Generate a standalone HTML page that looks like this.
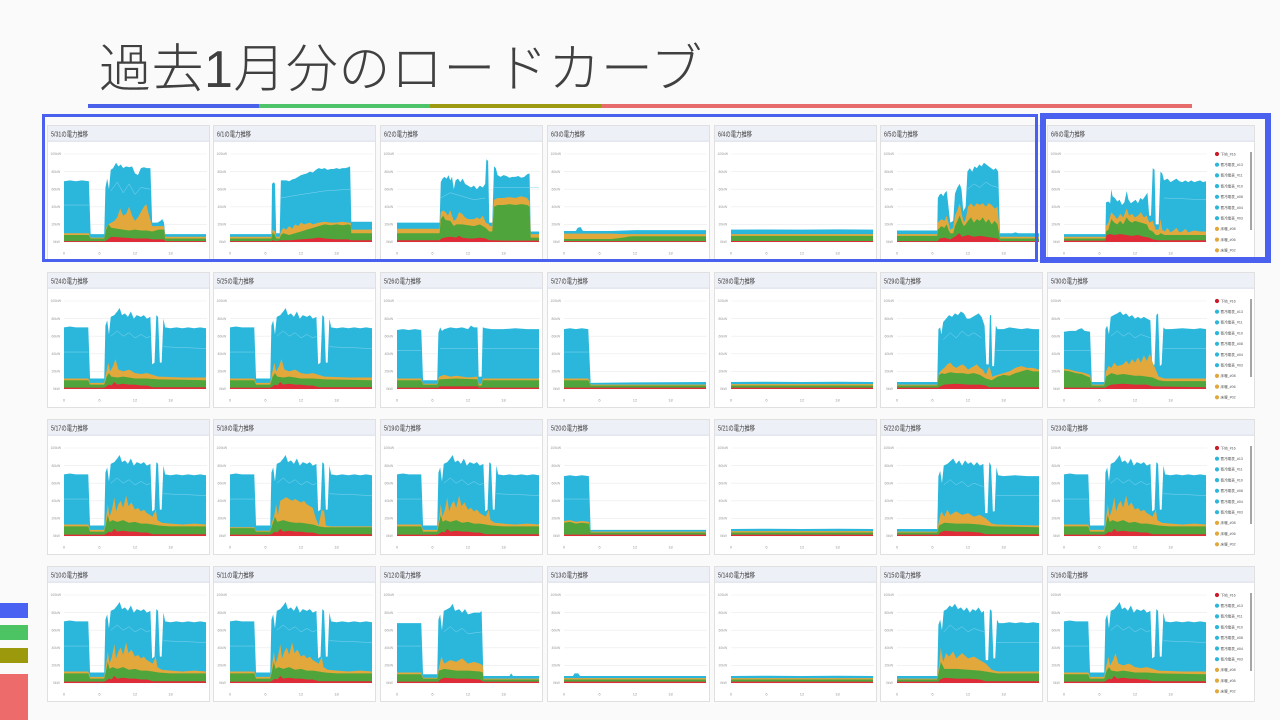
<!DOCTYPE html>
<html lang="ja"><head><meta charset="utf-8">
<style>
html,body{margin:0;padding:0;}
body{width:1280px;height:720px;background:#fafafa;position:relative;overflow:hidden;font-family:"Liberation Sans","Noto Sans CJK JP",sans-serif;}
.title{position:absolute;left:99px;top:40px;font-size:52px;line-height:60px;font-weight:300;color:#404040;font-family:"Liberation Sans","Noto Sans CJK JP",sans-serif;white-space:nowrap;letter-spacing:0.5px}
.ul{position:absolute;top:104px;height:4px}
.lb{position:absolute;left:0;width:28px}
svg{position:absolute;left:0;top:0}
.h{font-size:7px;fill:#3a3a3a;font-family:"Liberation Sans","Noto Sans CJK JP",sans-serif}
</style></head>
<body>
<div class="title">過去1月分のロードカーブ</div>
<div class="ul" style="left:88px;width:171px;background:#4a62ea"></div>
<div class="ul" style="left:259px;width:171px;background:#4dc46a"></div>
<div class="ul" style="left:430px;width:171px;background:#9b9a10"></div>
<div class="ul" style="left:601px;width:591px;background:#e86b6b"></div>
<div class="lb" style="top:603px;height:15px;background:#4a62f2"></div>
<div class="lb" style="top:625px;height:15px;background:#4cc464"></div>
<div class="lb" style="top:648px;height:15px;background:#9c9a0c"></div>
<div class="lb" style="top:674px;height:46px;background:#ee6b6b"></div>

<svg width="1280" height="720" viewBox="0 0 1280 720" xmlns="http://www.w3.org/2000/svg">
<defs>
<g id="grid">
<g stroke="#ebebeb" stroke-width="0.6">
<line x1="17" y1="29" x2="160" y2="29"/><line x1="17" y1="46.6" x2="160" y2="46.6"/><line x1="17" y1="64.2" x2="160" y2="64.2"/><line x1="17" y1="81.8" x2="160" y2="81.8"/><line x1="17" y1="99.4" x2="160" y2="99.4"/><line x1="17" y1="117" x2="160" y2="117"/>
</g>
<g font-family="Liberation Sans, sans-serif" font-size="3.4" fill="#9a9a9a">
<text x="3.5" y="30.2">100kW</text><text x="4.5" y="47.8">80kW</text><text x="4.5" y="65.4">60kW</text><text x="4.5" y="83">40kW</text><text x="4.5" y="100.6">20kW</text><text x="6" y="118.2">0kW</text>
</g>
<g font-family="Liberation Sans, sans-serif" font-size="4" fill="#999" text-anchor="middle">
<text x="17" y="129.5">0</text><text x="52.5" y="129.5">6</text><text x="88" y="129.5">12</text><text x="123.5" y="129.5">18</text>
</g>
</g>
<g id="fr">
<rect x="0.5" y="0.5" width="162" height="135" fill="#fff" stroke="#e0e0e0"/>
<rect x="1" y="1" width="161" height="15" fill="#eef0f7"/>
<line x1="1" y1="16.2" x2="162" y2="16.2" stroke="#d4d7e6" stroke-width="0.8"/>
<use href="#grid"/>
</g>
<g id="frL">
<rect x="0.5" y="0.5" width="207" height="135" fill="#fff" stroke="#e0e0e0"/>
<rect x="1" y="1" width="206" height="15" fill="#eef0f7"/>
<line x1="1" y1="16.2" x2="207" y2="16.2" stroke="#d4d7e6" stroke-width="0.8"/>
<use href="#grid"/>
<line x1="204" y1="27" x2="204" y2="105" stroke="#6a6a6a" stroke-width="1.2"/>
<g font-family="Liberation Sans, Noto Sans CJK JP, sans-serif" font-size="3.6" fill="#555">
<circle cx="170" cy="29" r="2.1" fill="#c81e2a"/><text x="173.5" y="30.3">下地_#16</text>
<circle cx="170" cy="39.7" r="2.1" fill="#2bb7dc"/><text x="173.5" y="41">蓄冷電表_#13</text>
<circle cx="170" cy="50.4" r="2.1" fill="#2bb7dc"/><text x="173.5" y="51.7">蓄冷電表_#11</text>
<circle cx="170" cy="61.1" r="2.1" fill="#2bb7dc"/><text x="173.5" y="62.4">蓄冷電表_#10</text>
<circle cx="170" cy="71.8" r="2.1" fill="#2bb7dc"/><text x="173.5" y="73.1">蓄冷電表_#08</text>
<circle cx="170" cy="82.5" r="2.1" fill="#2bb7dc"/><text x="173.5" y="83.8">蓄冷電表_#04</text>
<circle cx="170" cy="93.2" r="2.1" fill="#2bb7dc"/><text x="173.5" y="94.5">蓄冷電表_#03</text>
<circle cx="170" cy="103.9" r="2.1" fill="#e2a83c"/><text x="173.5" y="105.2">床暖_#08</text>
<circle cx="170" cy="114.6" r="2.1" fill="#e2a83c"/><text x="173.5" y="115.9">床暖_#06</text>
<circle cx="170" cy="125.3" r="2.1" fill="#e2a83c"/><text x="173.5" y="126.6">床暖_#02</text>
</g>
</g>

<polygon id="Ca" fill="#2bb7dc" points="0,0 0,70 1,71 2,70 3,70 4.1,70 4.4,12 6.8,12 7,72 7.3,78 7.6,62 7.9,82 8.5,84 9,88 9.4,92 9.8,84 10.3,86 10.8,82 11.3,88 11.8,80 12.3,84 13,82 13.5,84 14,80 14.6,82 14.9,28 15.3,30 15.6,84 15.9,82 16.2,30 16.5,30 16.8,80 17.1,70 18,69 19,70 20,69 21,70 22,69 23,70 24,69 24,0"/>
<path id="La" fill="none" stroke="#86d4ec" stroke-width="0.5" vector-effect="non-scaling-stroke" d="M0,42L4.1,42M7.9,60L9,66 10,60 11,64 12,58 13,62 14,58 14.6,60M16.8,48L24,46"/>
<polygon id="Ra" fill="#de2c38" points="0,0 0,1.5 6.8,1.5 7.2,3 7.6,5 8,4 8.5,8 9,5 10,6 11,5 12,5 13,4 14,4 14.5,3 15,2 24,2 24,0"/>
<g id="WA">
<use href="#Ca"/><use href="#La"/>
<polygon fill="#e2a83c" points="0,0 0,13 4.1,13 4.4,7 6.8,7 7.1,20 7.4,36 7.7,22 8.1,30 8.5,44 8.8,28 9.2,36 9.6,40 10,32 10.5,46 10.9,34 11.4,38 12,30 12.5,32 13,28 13.5,30 14,26 14.5,24 15,22 15.5,30 15.8,18 16.5,15 18,14 20,13 22,14 24,13 24,0"/>
<polygon fill="#4fa53b" points="0,0 0,11 4.1,11 4.4,5 6.8,5 7.1,14 7.4,24 7.7,16 8.2,18 9,16 10,18 11,15 12,16 13,14 14,14 15,13 16,12 18,11 20,11 22,11 24,11 24,0"/>
<use href="#Ra"/>
</g>
<g id="WB">
<use href="#Ca"/><use href="#La"/>
<polygon fill="#e2a83c" points="0,0 0,12 4.1,12 4.4,7 6.8,7 7.1,18 7.5,30 7.8,20 8.3,26 8.7,34 9.2,22 10,20 11,22 12,18 13,17 14,18 15,16 16,14 20,13 24,13 24,0"/>
<polygon fill="#4fa53b" points="0,0 0,10 4.1,10 4.4,5 6.8,5 7.2,14 7.6,18 8,14 9,13 10,14 11,13 12,12 14,12 16,11 24,10 24,0"/>
<use href="#Ra"/>
</g>
<g id="WC">
<use href="#Ca"/><use href="#La"/>
<polygon fill="#e2a83c" points="0,0 0,10 4.1,10 4.4,6 6.8,6 7.1,16 7.5,24 7.8,36 8.1,24 8.5,40 9,42 9.5,44 10,42 10.5,40 11,42 11.5,40 12,38 12.5,40 13,36 13.5,34 14,32 14.5,20 15,12 15.5,30 15.9,28 16.2,12 17,11 24,11 24,0"/>
<polygon fill="#4fa53b" points="0,0 0,9 4.1,9 4.4,5 6.8,5 7.1,12 7.6,22 8,16 9,18 10,16 11,15 12,15 13,14 14,13 15,11 16,10 24,10 24,0"/>
<use href="#Ra"/>
</g>
<g id="FL">
<polygon fill="#2bb7dc" points="0,0 0,8 6,8.2 12,8 18,8.3 24,8 24,0"/>
<polygon fill="#e2a83c" points="0,0 0,5.5 24,5.5 24,0"/>
<polygon fill="#4fa53b" points="0,0 0,4 24,4 24,0"/>
<polygon fill="#de2c38" points="0,0 0,1.5 24,1.5 24,0"/>
</g>
</defs>

<!-- ROW 1 -->
<g transform="translate(47,125)"><use href="#fr"/><text class="h" x="4" y="11.5" textLength="37" lengthAdjust="spacingAndGlyphs">5/31の電力推移</text>
<g transform="translate(17,117) scale(5.917,-0.88)">
<polygon fill="#2bb7dc" points="0,0 0,69 1,70 2,69 3,70 4.2,69 4.5,9 6.8,9 7,62 7.3,72 7.6,60 7.9,82 8.3,84 8.8,90 9.2,86 9.6,88 10,84 10.5,86 11,85 11.5,86 12,78 12.5,76 13,84 13.5,85 14,84 14.6,84 14.9,22 15.8,22 16.3,24 16.6,26 16.9,22 17.1,9 24,9 24,0"/>
<path fill="none" stroke="#86d4ec" stroke-width="0.5" vector-effect="non-scaling-stroke" d="M0,42L4.2,42M7.9,58L9,68 10,56 11,66 12,54 13,62 14.6,60"/>
<polygon fill="#e2a83c" points="0,0 0,10 4.2,10 4.5,5 6.8,5 7.1,16 7.5,20 8,22 8.5,24 9,28 9.5,38 10,30 10.5,32 11,40 11.5,30 12,24 12.5,28 13,34 13.5,40 13.9,43 14.3,32 14.9,18 16,18 16.9,18 17.1,6 24,6 24,0"/>
<polygon fill="#4fa53b" points="0,0 0,8 4.2,8 4.5,4 6.8,4 7.1,14 7.5,20 8,16 9,15 10,14 11,13 12,14 13,13 14,13 14.9,12 16,14 16.9,14 17.1,4 24,4 24,0"/>
<polygon fill="#de2c38" points="0,0 0,1 7,1 7.4,3 8,6 10,5 12,4 14,4 15,3 16.9,3 17.1,1 24,1 24,0"/>
</g></g>

<g transform="translate(213,125)"><use href="#fr"/><text class="h" x="4" y="11.5" textLength="34" lengthAdjust="spacingAndGlyphs">6/1の電力推移</text>
<g transform="translate(17,117) scale(5.917,-0.88)">
<polygon fill="#2bb7dc" points="0,0 0,9 7,9 7.1,66 7.4,68 7.6,66 7.8,10 8.4,10 8.6,70 9.5,70 10,69 10.5,71 11,72 11.5,74 12,76 12.5,77 13,78 13.5,80 14,79 14.5,82 15,84 15.5,83 16,84 16.5,82 17,83 17.5,83 18,84 18.5,83 19,84 19.5,84 20,85 20.3,86 20.5,23 24,23 24,0"/>
<path fill="none" stroke="#86d4ec" stroke-width="0.5" vector-effect="non-scaling-stroke" d="M8.6,50L12,54 16,58 20.3,60"/>
<polygon fill="#e2a83c" points="0,0 0,6 7,6 7.2,14 7.6,12 7.8,6 8.4,6 8.6,12 9,16 9.5,14 10,18 10.5,15 11,20 11.5,18 12,22 12.5,20 13,21 13.5,22 14,20 15,22 16,23 17,22 18,22 19,23 20,22 20.4,22 20.5,14 24,14 24,0"/>
<polygon fill="#4fa53b" points="0,0 0,4 7,4 7.2,11 7.6,8 7.8,4 8.4,4 8.6,8 9,10 10,8 11,10 12,12 13,14 14,16 15,18 16,20 17,19 18,20 19,19 20,20 20.4,19 20.5,10 24,10 24,0"/>
<polygon fill="#de2c38" points="0,0 0,1 7,1 7.2,2 7.8,1 8.6,2 10,2 12,3 14,4 15,5 16,4 18,3 20,3 20.5,2 24,2 24,0"/>
</g></g>

<g transform="translate(380,125)"><use href="#fr"/><text class="h" x="4" y="11.5" textLength="34" lengthAdjust="spacingAndGlyphs">6/2の電力推移</text>
<g transform="translate(17,117) scale(5.917,-0.88)">
<polygon fill="#2bb7dc" points="0,0 0,22 7.2,22 7.4,68 7.7,72 8,74 8.4,72 8.7,76 9,70 9.3,74 9.6,60 9.9,70 10.3,72 10.7,68 11.1,72 11.5,66 12,64 12.5,62 13,64 13.5,60 14,64 14.5,62 14.9,66 15.1,94 15.4,92 15.6,22 16.1,22 16.4,86 16.7,84 17,76 17.5,74 18,76 18.5,75 19,73 19.5,74 20,74 20.5,75 21,73 21.5,74 22,77 22.4,78 22.6,12 24,12 24,0"/>
<path fill="none" stroke="#86d4ec" stroke-width="0.5" vector-effect="non-scaling-stroke" d="M7.4,50L9,56 11,52 13,48 14.9,50M16.4,62L24,62"/>
<polygon fill="#e2a83c" points="0,0 0,15 7.2,15 7.4,34 7.8,36 8.2,34 8.6,30 9,36 9.3,30 9.6,24 10,26 10.5,34 11,32 11.5,28 12,26 13,26 13.5,28 14,26 14.5,30 15,22 15.5,20 15.7,18 16.1,18 16.4,48 17,50 18,50 19,51 20,50 21,52 22,50 22.4,46 22.6,9 24,9 24,0"/>
<polygon fill="#4fa53b" points="0,0 0,10 7.2,10 7.4,26 7.8,30 8.2,25 9,24 9.6,18 10,20 11,20 12,19 13,18 14,20 15,16 15.6,12 16.1,12 16.4,40 17,42 18,42 19,43 20,42 21,43 22,42 22.4,40 22.6,5 24,5 24,0"/>
<polygon fill="#de2c38" points="0,0 0,2 7.2,2 7.5,4 8,5 9,6 10,5 10.5,7 11,5 12,4 13,4 14,5 15,4 15.6,2 16.4,2 18,1.5 24,1.5 24,0"/>
</g></g>

<g transform="translate(547,125)"><use href="#fr"/><text class="h" x="4" y="11.5" textLength="34" lengthAdjust="spacingAndGlyphs">6/3の電力推移</text>
<g transform="translate(17,117) scale(5.917,-0.88)">
<polygon fill="#2bb7dc" points="0,0 0,12.5 2,12.5 2.3,16 2.8,17 3.2,12.5 8,12.5 12,13.5 18,13.5 24,13.5 24,0"/>
<polygon fill="#e2a83c" points="0,0 0,9.5 8,9.5 10,9 12,9 24,9 24,0"/>
<polygon fill="#4fa53b" points="0,0 0,3.4 8,3.4 10,5 11,6.3 12,6.6 24,6.6 24,0"/>
<polygon fill="#de2c38" points="0,0 0,1 24,1 24,0"/>
</g></g>

<g transform="translate(714,125)"><use href="#fr"/><text class="h" x="4" y="11.5" textLength="34" lengthAdjust="spacingAndGlyphs">6/4の電力推移</text>
<g transform="translate(17,117) scale(5.917,-0.88)">
<polygon fill="#2bb7dc" points="0,0 0,14 6,14.2 12,14 18,14.4 24,14 24,0"/>
<polygon fill="#e2a83c" points="0,0 0,9 24,9 24,0"/>
<polygon fill="#4fa53b" points="0,0 0,7 24,7 24,0"/>
<polygon fill="#de2c38" points="0,0 0,1.2 24,1.2 24,0"/>
</g></g>

<g transform="translate(880,125)"><use href="#fr"/><text class="h" x="4" y="11.5" textLength="34" lengthAdjust="spacingAndGlyphs">6/5の電力推移</text>
<g transform="translate(17,117) scale(5.917,-0.88)">
<polygon fill="#2bb7dc" points="0,0 0,13 6.8,13 6.9,50 7.2,54 7.5,55 7.8,52 8.1,56 8.4,58 8.7,40 9,22 9.5,24 9.8,55 10.2,62 10.6,66 10.9,60 11.2,35 11.6,40 11.9,80 12.3,84 12.7,80 13.1,86 13.5,84 13.9,88 14.3,86 14.7,90 15.1,88 15.5,86 15.9,84 16.3,82 16.7,84 17.1,80 17.4,10 19.5,10 20,11 20.5,10 24,10 24,0"/>
<path fill="none" stroke="#86d4ec" stroke-width="0.5" vector-effect="non-scaling-stroke" d="M11.9,60L13,66 14,62 15,68 16,64 17.1,62"/>
<polygon fill="#e2a83c" points="0,0 0,9 6.8,9 6.9,22 7.5,26 8,24 8.4,30 8.7,22 9,14 9.5,16 9.8,30 10.2,36 10.6,44 11,30 11.3,22 11.6,26 12,40 12.5,44 13,40 13.5,44 14,42 14.5,44 15,40 15.5,44 16,42 16.5,38 17,40 17.4,6 24,6 24,0"/>
<polygon fill="#4fa53b" points="0,0 0,7 6.8,7 6.9,14 7.5,18 8,16 8.4,20 8.7,14 9,10 9.5,10 9.8,18 10.2,24 10.6,30 11,22 11.3,18 11.6,20 12,24 12.5,28 13,22 13.5,26 14,24 14.5,28 15,22 15.5,26 16,20 16.5,24 17,20 17.4,4 24,4 24,0"/>
<polygon fill="#de2c38" points="0,0 0,1 6.9,1 7.2,4 8,5 9,3 10,7 10.5,10 11,6 12,8 13,6 14,7 15,6 16,5 17,4 17.4,1 24,1 24,0"/>
</g></g>

<g transform="translate(1047,125)"><use href="#frL"/><text class="h" x="4" y="11.5" textLength="34" lengthAdjust="spacingAndGlyphs">6/6の電力推移</text>
<g transform="translate(17,117) scale(5.917,-0.88)">
<polygon fill="#2bb7dc" points="0,0 0,9 7,9 7.1,45 7.5,46 7.8,44 8,60 8.2,52 8.6,50 9,46 9.4,48 9.8,42 10.2,45 10.6,58 10.9,48 11.3,44 11.7,46 12.1,48 12.5,44 12.9,50 13.3,48 13.7,52 14.1,56 14.4,30 14.7,30 15,84 15.3,82 15.5,20 16,20 16.3,80 16.6,78 16.9,70 17.5,72 18,68 18.5,70 19,72 19.5,69 20,68 20.5,70 21,68 21.5,70 22,68 22.5,69 23,70 23.5,68 24,69 24,0"/>
<path fill="none" stroke="#86d4ec" stroke-width="0.5" vector-effect="non-scaling-stroke" d="M16.9,50L24,48"/>
<polygon fill="#e2a83c" points="0,0 0,6 7,6 7.1,18 7.5,22 8,34 8.5,30 9,26 9.5,32 10,28 10.6,38 11,30 11.5,32 12,28 12.5,30 13,34 13.5,28 14,30 14.4,22 15,24 15.5,14 16,14 16.3,26 16.6,14 17,12 17.5,16 18,11 18.5,13 19,16 19.5,11 20,12 20.5,15 21,11 22,13 23,12 24,12 24,0"/>
<polygon fill="#4fa53b" points="0,0 0,4 7,4 7.1,12 7.5,14 8,26 8.5,22 9,20 9.5,24 10,20 10.6,28 11,24 11.5,22 12,24 13,22 14,20 14.4,14 15,12 15.5,8 16,8 16.3,10 17,8 24,8 24,0"/>
<polygon fill="#de2c38" points="0,0 0,1.5 7,1.5 7.2,8 7.8,9 8.5,8 9.5,9 10.5,8 11.5,7 12.5,8 13.5,6 14.4,5 15,3 16,2 24,2 24,0"/>
</g></g>

<!-- ROW 2 -->
<g transform="translate(47,272)"><use href="#fr"/><text class="h" x="4" y="11.5" textLength="37" lengthAdjust="spacingAndGlyphs">5/24の電力推移</text>
<use href="#WB" transform="translate(17,117) scale(5.917,-0.88)"/></g>
<g transform="translate(213,272)"><use href="#fr"/><text class="h" x="4" y="11.5" textLength="37" lengthAdjust="spacingAndGlyphs">5/25の電力推移</text>
<use href="#WB" transform="translate(17,117) scale(5.917,-0.88)"/></g>

<g transform="translate(380,272)"><use href="#fr"/><text class="h" x="4" y="11.5" textLength="37" lengthAdjust="spacingAndGlyphs">5/26の電力推移</text>
<g transform="translate(17,117) scale(5.917,-0.88)">
<polygon fill="#2bb7dc" points="0,0 0,67 1,68 2,67 3,68 4.1,67 4.4,10 6.8,10 7,64 7.3,70 7.6,66 8,68 9,70 10,69 11,70 12,68 12.5,72 13,70 13.6,70 13.8,14 14.3,14 14.5,70 15,69 16,68 18,68 20,69 22,68 24,68 24,0"/>
<path fill="none" stroke="#86d4ec" stroke-width="0.5" vector-effect="non-scaling-stroke" d="M0,44L4.1,44M7.3,46L13.6,46M14.5,46L24,46"/>
<polygon fill="#e2a83c" points="0,0 0,12 4.1,12 4.4,6 6.8,6 7.1,14 8,16 9,14 10,15 12,13 13.6,14 13.8,6 14.3,6 14.5,12 24,12 24,0"/>
<polygon fill="#4fa53b" points="0,0 0,10 4.1,10 4.4,5 6.8,5 7.1,11 10,12 13.6,11 13.8,4 14.3,4 14.5,10 24,10 24,0"/>
<polygon fill="#de2c38" points="0,0 0,1.5 7,1.5 7.2,3 13.6,3 13.8,1.5 24,1.5 24,0"/>
</g></g>

<g transform="translate(547,272)"><use href="#fr"/><text class="h" x="4" y="11.5" textLength="37" lengthAdjust="spacingAndGlyphs">5/27の電力推移</text>
<g transform="translate(17,117) scale(5.917,-0.88)">
<polygon fill="#2bb7dc" points="0,0 0,68 1,69 2,68 3,69 4.1,68 4.5,7 12,7.5 24,8 24,0"/>
<path fill="none" stroke="#86d4ec" stroke-width="0.5" vector-effect="non-scaling-stroke" d="M0,42L4.1,42"/>
<polygon fill="#e2a83c" points="0,0 0,12 4.1,12 4.5,5 24,5 24,0"/>
<polygon fill="#4fa53b" points="0,0 0,10 4.1,10 4.5,4 24,4 24,0"/>
<polygon fill="#de2c38" points="0,0 0,1.5 24,1.5 24,0"/>
</g></g>

<g transform="translate(714,272)"><use href="#fr"/><text class="h" x="4" y="11.5" textLength="37" lengthAdjust="spacingAndGlyphs">5/28の電力推移</text>
<use href="#FL" transform="translate(17,117) scale(5.917,-0.88)"/></g>

<g transform="translate(880,272)"><use href="#fr"/><text class="h" x="4" y="11.5" textLength="37" lengthAdjust="spacingAndGlyphs">5/29の電力推移</text>
<g transform="translate(17,117) scale(5.917,-0.88)">
<polygon fill="#2bb7dc" points="0,0 0,8 6.8,8 7,68 7.3,70 7.5,62 7.8,76 8.3,80 8.8,84 9.3,82 9.8,86 10.3,84 10.8,88 11.3,86 11.8,80 12.3,80 12.8,82 13.3,84 13.8,86 14.3,82 14.8,72 15.1,28 15.5,28 15.7,84 15.9,84 16.1,26 16.4,26 16.7,72 17,68 18,68 19,70 20,69 21,68 22,69 23,68 24,68 24,0"/>
<path fill="none" stroke="#86d4ec" stroke-width="0.5" vector-effect="non-scaling-stroke" d="M7.8,56L9,64 10,58 11,66 12,60 13,64 14.3,58M16.7,44L24,44"/>
<polygon fill="#e2a83c" points="0,0 0,5 6.8,5 7.1,18 7.6,22 8,24 8.5,28 9,30 9.5,26 10,24 10.5,26 11,28 11.5,26 12,22 12.5,24 13,26 13.5,28 14,24 14.5,22 15,16 15.6,26 16.1,14 17,16 18,18 19,20 20,24 21,26 22,24 23,24 24,22 24,0"/>
<polygon fill="#4fa53b" points="0,0 0,4 6.8,4 7.1,16 7.6,18 8,17 9,19 10,18 11,18 12,17 13,18 14,16 15,12 16,10 17,14 18,16 19,15 20,18 21,20 22,22 23,20 24,20 24,0"/>
<polygon fill="#de2c38" points="0,0 0,1.5 7,1.5 7.3,3 8,5 10,6 12,5 14,5 15,4 15.5,2 24,2 24,0"/>
</g></g>

<g transform="translate(1047,272)"><use href="#frL"/><text class="h" x="4" y="11.5" textLength="37" lengthAdjust="spacingAndGlyphs">5/30の電力推移</text>
<g transform="translate(17,117) scale(5.917,-0.88)">
<polygon fill="#2bb7dc" points="0,0 0,65 1,66 2,66 2.5,68 3,69 3.5,66 4.4,65 4.7,8 6.8,8 7,68 7.3,72 7.6,62 7.9,82 8.4,84 9,86 9.5,88 10,84 10.5,86 11,82 11.5,84 12,80 12.5,82 13,80 13.5,82 14,80 14.6,78 14.9,26 15.3,28 15.6,84 15.9,86 16.2,26 16.5,28 16.8,70 17.1,68 18,68 20,69 22,68 23,69 24,68 24,0"/>
<path fill="none" stroke="#86d4ec" stroke-width="0.5" vector-effect="non-scaling-stroke" d="M0,44L4.4,44M7.9,60L9,66 10,60 11,64 12,58 13,62 14.6,58M16.8,46L24,46"/>
<polygon fill="#e2a83c" points="0,0 0,23 1,22 2,20 3,19 4,17 4.4,16 4.7,5 6.8,5 7.1,20 7.5,26 8,24 8.5,30 9,26 10,28 10.5,32 11,28 11.5,34 12,30 12.5,36 13,30 13.5,38 14,32 14.5,40 15,30 15.5,22 16,14 17,12 24,12 24,0"/>
<polygon fill="#4fa53b" points="0,0 0,21 1,20 2,18 3,17 4,14 4.4,13 4.7,4 6.8,4 7.1,14 8,18 9,16 10,17 11,16 12,15 13,15 14,14 15,13 16,10 17,9 24,9 24,0"/>
<polygon fill="#de2c38" points="0,0 0,1.5 7,1.5 7.3,3 8,5 10,6 12,5 14,5 15,3 24,2 24,0"/>
</g></g>

<!-- ROW 3 -->
<g transform="translate(47,419)"><use href="#fr"/><text class="h" x="4" y="11.5" textLength="37" lengthAdjust="spacingAndGlyphs">5/17の電力推移</text>
<use href="#WA" transform="translate(17,117) scale(5.917,-0.88)"/></g>
<g transform="translate(213,419)"><use href="#fr"/><text class="h" x="4" y="11.5" textLength="37" lengthAdjust="spacingAndGlyphs">5/18の電力推移</text>
<use href="#WC" transform="translate(17,117) scale(5.917,-0.88)"/></g>
<g transform="translate(380,419)"><use href="#fr"/><text class="h" x="4" y="11.5" textLength="37" lengthAdjust="spacingAndGlyphs">5/19の電力推移</text>
<use href="#WA" transform="translate(17,117) scale(5.917,-0.88)"/></g>

<g transform="translate(547,419)"><use href="#fr"/><text class="h" x="4" y="11.5" textLength="37" lengthAdjust="spacingAndGlyphs">5/20の電力推移</text>
<g transform="translate(17,117) scale(5.917,-0.88)">
<polygon fill="#2bb7dc" points="0,0 0,68 1,69 2,68 3,69 4.2,68 4.5,7 24,7 24,0"/>
<path fill="none" stroke="#86d4ec" stroke-width="0.5" vector-effect="non-scaling-stroke" d="M0,42L4.2,42"/>
<polygon fill="#e2a83c" points="0,0 0,17 1,18 2,16 3,17 4.2,16 4.5,5 24,5 24,0"/>
<polygon fill="#4fa53b" points="0,0 0,15 1,16 2,14 3,15 4.2,14 4.5,4 24,4 24,0"/>
<polygon fill="#de2c38" points="0,0 0,1.5 24,1.5 24,0"/>
</g></g>

<g transform="translate(714,419)"><use href="#fr"/><text class="h" x="4" y="11.5" textLength="37" lengthAdjust="spacingAndGlyphs">5/21の電力推移</text>
<use href="#FL" transform="translate(17,117) scale(5.917,-0.88)"/></g>

<g transform="translate(880,419)"><use href="#fr"/><text class="h" x="4" y="11.5" textLength="37" lengthAdjust="spacingAndGlyphs">5/22の電力推移</text>
<g transform="translate(17,117) scale(5.917,-0.88)">
<polygon fill="#2bb7dc" points="0,0 0,8 6.8,8 7,68 7.3,74 7.6,60 7.9,80 8.5,82 9,85 9.5,88 10,82 10.5,86 11,80 11.5,86 12,82 12.5,84 13,80 13.5,84 14,80 14.6,82 14.9,26 15.3,26 15.6,84 15.9,80 16.2,28 16.5,28 16.8,78 17.1,69 18,68 20,69 22,68 24,68 24,0"/>
<path fill="none" stroke="#86d4ec" stroke-width="0.5" vector-effect="non-scaling-stroke" d="M7.9,58L9,64 10,58 11,62 12,56 13,60 14.6,56M16.8,46L24,46"/>
<polygon fill="#e2a83c" points="0,0 0,5 6.8,5 7.1,18 7.5,28 8,22 8.5,30 9,24 10,28 11,24 12,26 13,22 14,24 15,20 16,14 17,13 24,12 24,0"/>
<polygon fill="#4fa53b" points="0,0 0,4 6.8,4 7.1,12 8,15 10,14 12,14 14,13 16,11 24,10 24,0"/>
<polygon fill="#de2c38" points="0,0 0,1.5 7,1.5 7.3,4 8,6 10,5 12,5 14,4 15,2 24,2 24,0"/>
</g></g>

<g transform="translate(1047,419)"><use href="#frL"/><text class="h" x="4" y="11.5" textLength="37" lengthAdjust="spacingAndGlyphs">5/23の電力推移</text>
<use href="#WA" transform="translate(17,117) scale(5.917,-0.88)"/></g>

<!-- ROW 4 -->
<g transform="translate(47,566)"><use href="#fr"/><text class="h" x="4" y="11.5" textLength="37" lengthAdjust="spacingAndGlyphs">5/10の電力推移</text>
<use href="#WA" transform="translate(17,117) scale(5.917,-0.88)"/></g>
<g transform="translate(213,566)"><use href="#fr"/><text class="h" x="4" y="11.5" textLength="37" lengthAdjust="spacingAndGlyphs">5/11の電力推移</text>
<use href="#WA" transform="translate(17,117) scale(5.917,-0.88)"/></g>

<g transform="translate(380,566)"><use href="#fr"/><text class="h" x="4" y="11.5" textLength="37" lengthAdjust="spacingAndGlyphs">5/12の電力推移</text>
<g transform="translate(17,117) scale(5.917,-0.88)">
<polygon fill="#2bb7dc" points="0,0 0,68 4.1,68 4.4,10 6.8,10 7,72 7.3,78 7.6,60 7.9,82 8.5,84 9,86 9.4,90 9.8,82 10.5,84 11,80 11.5,84 12,78 13,80 14,80 14.3,82 14.6,8 19,8 19.3,11 19.6,8 24,8 24,0"/>
<path fill="none" stroke="#86d4ec" stroke-width="0.5" vector-effect="non-scaling-stroke" d="M0,42L4.1,42M7.9,58L9,64 10,58 11,62 12,56 14.3,58"/>
<polygon fill="#e2a83c" points="0,0 0,12 4.1,12 4.4,6 6.8,6 7.1,18 7.5,30 8,22 9,26 10,24 11,28 12,22 13,24 14,22 14.5,20 14.6,5 24,5 24,0"/>
<polygon fill="#4fa53b" points="0,0 0,10 4.1,10 4.4,5 6.8,5 7.1,14 8,16 10,14 12,14 14,13 14.5,12 14.6,4 24,4 24,0"/>
<polygon fill="#de2c38" points="0,0 0,1.5 7,1.5 7.3,4 8,6 10,5 12,5 14,4 14.6,1.5 24,1.5 24,0"/>
</g></g>

<g transform="translate(547,566)"><use href="#fr"/><text class="h" x="4" y="11.5" textLength="37" lengthAdjust="spacingAndGlyphs">5/13の電力推移</text>
<g transform="translate(17,117) scale(5.917,-0.88)">
<polygon fill="#2bb7dc" points="0,0 0,8 1.5,8 1.8,11 2.4,11 2.7,8 24,8 24,0"/>
<polygon fill="#e2a83c" points="0,0 0,5.5 24,5.5 24,0"/>
<polygon fill="#4fa53b" points="0,0 0,4 24,4 24,0"/>
<polygon fill="#de2c38" points="0,0 0,1.5 24,1.5 24,0"/>
</g></g>

<g transform="translate(714,566)"><use href="#fr"/><text class="h" x="4" y="11.5" textLength="37" lengthAdjust="spacingAndGlyphs">5/14の電力推移</text>
<use href="#FL" transform="translate(17,117) scale(5.917,-0.88)"/></g>

<g transform="translate(880,566)"><use href="#fr"/><text class="h" x="4" y="11.5" textLength="37" lengthAdjust="spacingAndGlyphs">5/15の電力推移</text>
<g transform="translate(17,117) scale(5.917,-0.88)">
<polygon fill="#2bb7dc" points="0,0 0,8 6.8,8 7,66 7.3,72 7.6,60 7.9,82 8.4,84 8.9,88 9.3,86 9.8,90 10.3,84 10.8,86 11.3,82 11.8,86 12.3,80 12.8,84 13.3,82 13.8,86 14.3,80 14.7,82 15,26 15.4,26 15.7,84 16,82 16.3,28 16.6,28 16.9,72 17.2,68 18,68 19,69 20,68 21,69 22,68 23,69 24,68 24,0"/>
<path fill="none" stroke="#86d4ec" stroke-width="0.5" vector-effect="non-scaling-stroke" d="M7.9,58L9,66 10,60 11,64 12,58 13,62 14.7,58M16.9,46L24,46"/>
<polygon fill="#e2a83c" points="0,0 0,5 6.8,5 7.1,20 7.4,40 7.8,24 8.3,34 8.8,30 9.5,36 10,28 11,34 12,28 13,30 14,26 15,22 16,15 17,13 24,13 24,0"/>
<polygon fill="#4fa53b" points="0,0 0,4 6.8,4 7.1,14 7.4,24 8,16 10,16 12,15 14,14 16,12 17,11 24,11 24,0"/>
<polygon fill="#de2c38" points="0,0 0,1.5 7,1.5 7.3,4 8,6 10,5 12,5 14,4 15,2 24,2 24,0"/>
</g></g>

<g transform="translate(1047,566)"><use href="#frL"/><text class="h" x="4" y="11.5" textLength="37" lengthAdjust="spacingAndGlyphs">5/16の電力推移</text>
<use href="#WB" transform="translate(17,117) scale(5.917,-0.88)"/></g>

<!-- highlight boxes -->
<rect x="43.5" y="115.5" width="993" height="145" fill="none" stroke="#4a60ee" stroke-width="3"/>
<rect x="1043" y="116" width="225" height="144" fill="none" stroke="#4a60ee" stroke-width="6"/>
</svg>
</body></html>
